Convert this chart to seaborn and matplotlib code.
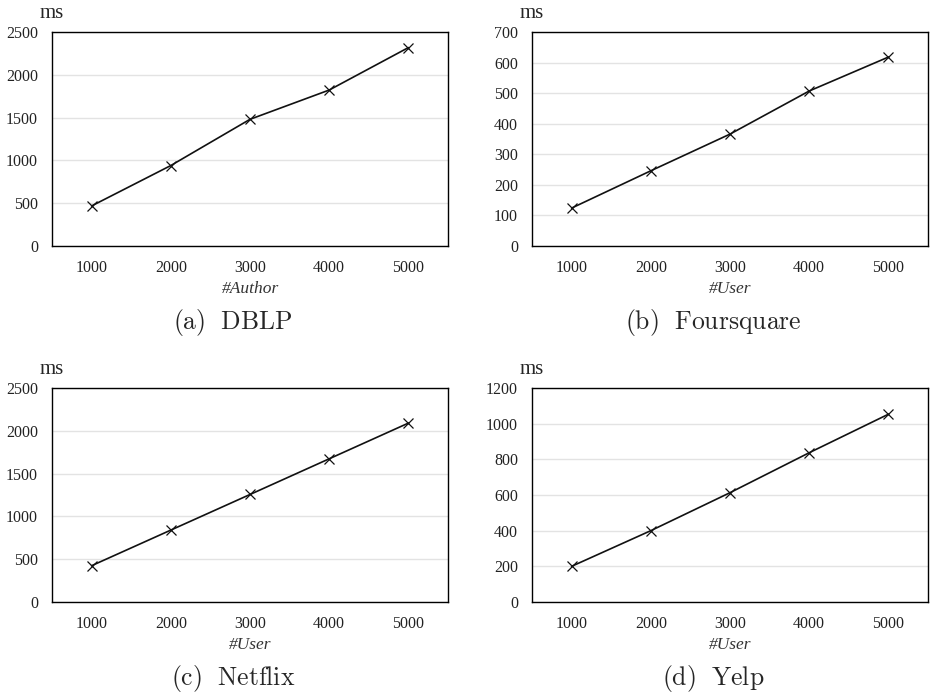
import numpy as np
import pandas as pd
import matplotlib
matplotlib.use("Agg")
import matplotlib.pyplot as plt
import seaborn as sns

# data
sizes = ["1000", "2000", "3000", "4000", "5000"]
dblp_ms = [468, 940, 1480, 1822, 2318]
foursquare_ms = [124, 246, 366, 507, 618]
netflix_ms = [424, 840, 1256, 1673, 2090]
yelp_ms = [200, 400, 613, 837, 1053]

panels = [
    ("(a)\\ \\ DBLP", "#Author", dblp_ms, 2500, 500),
    ("(b)\\ \\ Foursquare", "#User", foursquare_ms, 700, 100),
    ("(c)\\ \\ Netflix", "#User", netflix_ms, 2500, 500),
    ("(d)\\ \\ Yelp", "#User", yelp_ms, 1200, 200),
]

sns.set_theme(style="white")
plt.rcParams["font.family"] = ["Liberation Serif", "DejaVu Serif"]
plt.rcParams["mathtext.fontset"] = "cm"

W, H = 930, 693
fig = plt.figure(figsize=(W / 100, H / 100), dpi=100)

# axes boxes in pixels: left, top, right, bottom
boxes = [(52, 32, 448, 246), (532, 32, 928, 246),
         (52, 388, 448, 602), (532, 388, 928, 602)]

for (caption, xlab, vals, ymax, step), (l, t, r, b) in zip(panels, boxes):
    ax = fig.add_axes([l / W, (H - b) / H, (r - l) / W, (b - t) / H])
    df = pd.DataFrame({"n": sizes, "ms": vals})
    sns.pointplot(data=df, x="n", y="ms", ax=ax, color="#111111",
                  markers="x", linestyles="-", linewidth=1.2,
                  markersize=7, markeredgewidth=0.9)
    ax.set_xlim(-0.5, len(sizes) - 0.5)
    ax.set_ylim(0, ymax)
    ax.set_yticks(np.arange(0, ymax + 1, step))
    ax.yaxis.grid(True, color="#e3e3e3", linewidth=1.0)
    ax.set_axisbelow(True)
    for sp in ax.spines.values():
        sp.set_visible(True)
        sp.set_color("black")
        sp.set_linewidth(1.0)
    ax.tick_params(axis="both", length=0, labelsize=11.5, pad=10,
                   labelcolor="#222222")
    ax.set_ylabel("")
    ax.set_xlabel(xlab, fontsize=12.5, style="italic", color="#333333",
                  labelpad=4)
    fig.text((l - 12) / W, (H - (t - 19)) / H, "ms", fontsize=15,
             ha="left", va="center")
    fig.text(((l + r) / 2 - 17) / W, (H - (b + 77)) / H,
             "$\\mathrm{" + caption + "}$", fontsize=18.5,
             ha="center", va="center")

fig.savefig("out.png", dpi=100)
